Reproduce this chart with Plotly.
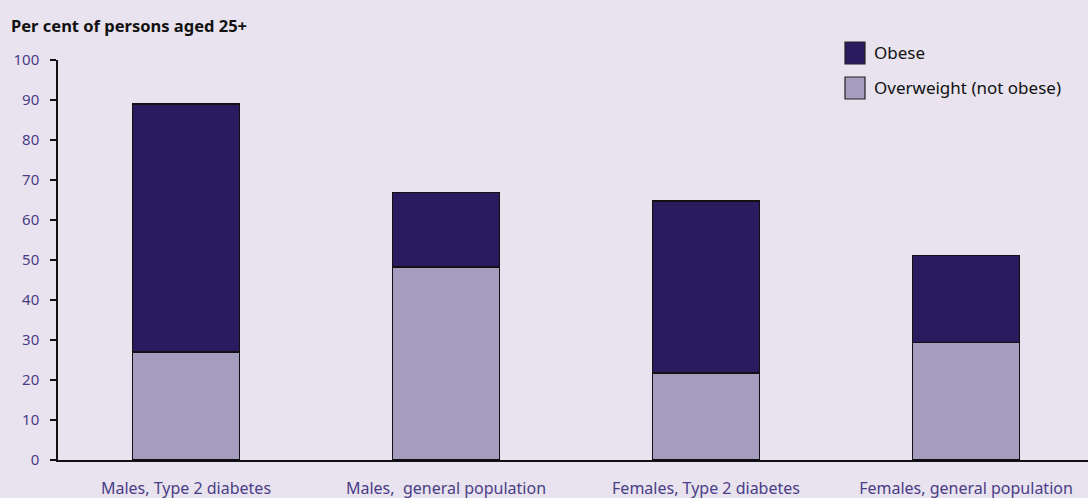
import plotly.graph_objects as go

# Share of persons aged 25+ who are overweight or obese
categories = [
    "Males, Type 2 diabetes",
    "Males,  general population",
    "Females, Type 2 diabetes",
    "Females, general population",
]
overweight = [27.0, 48.3, 21.7, 29.4]   # overweight (not obese)
obese = [62.0, 18.6, 43.1, 21.7]        # obese, stacked on top

y_ticks = list(range(0, 101, 10))

BG = "#E8E3EE"
OBESE_COL = "#2A1A5E"
OVER_COL = "#A59DBE"
LABEL_COL = "#4A3D87"
FONT = "Noto Sans"

x_idx = list(range(len(categories)))

fig = go.Figure()
fig.add_trace(go.Bar(
    x=x_idx, y=overweight, name="Overweight (not obese)",
    marker=dict(color=OVER_COL, line=dict(color="#111111", width=1.5)),
    width=0.41, showlegend=False,
))
fig.add_trace(go.Bar(
    x=x_idx, y=obese, name="Obese",
    marker=dict(color=OBESE_COL, line=dict(color="#111111", width=1.5)),
    width=0.41, showlegend=False,
))

# Hand-placed legend: coloured squares with labels
legend_items = [("Obese", OBESE_COL, 42, 64), ("Overweight (not obese)", OVER_COL, 77, 99)]
H = 498
for label, col, y0, y1 in legend_items:
    fig.add_shape(type="rect", xref="paper", yref="paper",
                  x0=(845 - 58) / 1030, x1=(865 - 58) / 1030,
                  y0=(H - 38 - y1) / 400, y1=(H - 38 - y0) / 400,
                  fillcolor=col, line=dict(color="#222222", width=1.2))
    fig.add_annotation(xref="paper", yref="paper",
                       x=(872 - 58) / 1030, y=(H - 38 - (y0 + y1) / 2) / 400,
                       xanchor="left", yanchor="middle", showarrow=False,
                       text=label, font=dict(family=FONT, size=17, color="#111111"))

fig.add_annotation(xref="paper", yref="paper", x=-49 / 1030, y=(H - 38 - 25) / 400,
                   xanchor="left", yanchor="middle", showarrow=False,
                   text="<b>Per cent of persons aged 25+</b>",
                   font=dict(family=FONT, size=16.5, color="#111111"))

x0 = -128 / 260
fig.update_layout(
    barmode="stack",
    width=1088, height=498,
    margin=dict(l=58, r=0, t=60, b=38, autoexpand=False),
    paper_bgcolor=BG, plot_bgcolor=BG,
    font=dict(family=FONT),
    xaxis=dict(
        range=[x0, x0 + 1030 / 260], automargin=False,
        tickmode="array", tickvals=x_idx, ticktext=categories,
        showgrid=False, zeroline=False,
        showline=True, linecolor="#111111", linewidth=1.5,
        ticks="", ticklabelstandoff=13,
        tickfont=dict(family=FONT, size=16, color=LABEL_COL),
    ),
    yaxis=dict(
        range=[0, 100], tickmode="array", tickvals=y_ticks, automargin=False,
        showgrid=False, zeroline=False,
        showline=True, linecolor="#111111", linewidth=1.5,
        ticks="outside", ticklen=6, tickwidth=1.5, tickcolor="#111111",
        ticklabelstandoff=8,
        tickfont=dict(family=FONT, size=15, color=LABEL_COL),
    ),
)

fig.write_html("out.html")
